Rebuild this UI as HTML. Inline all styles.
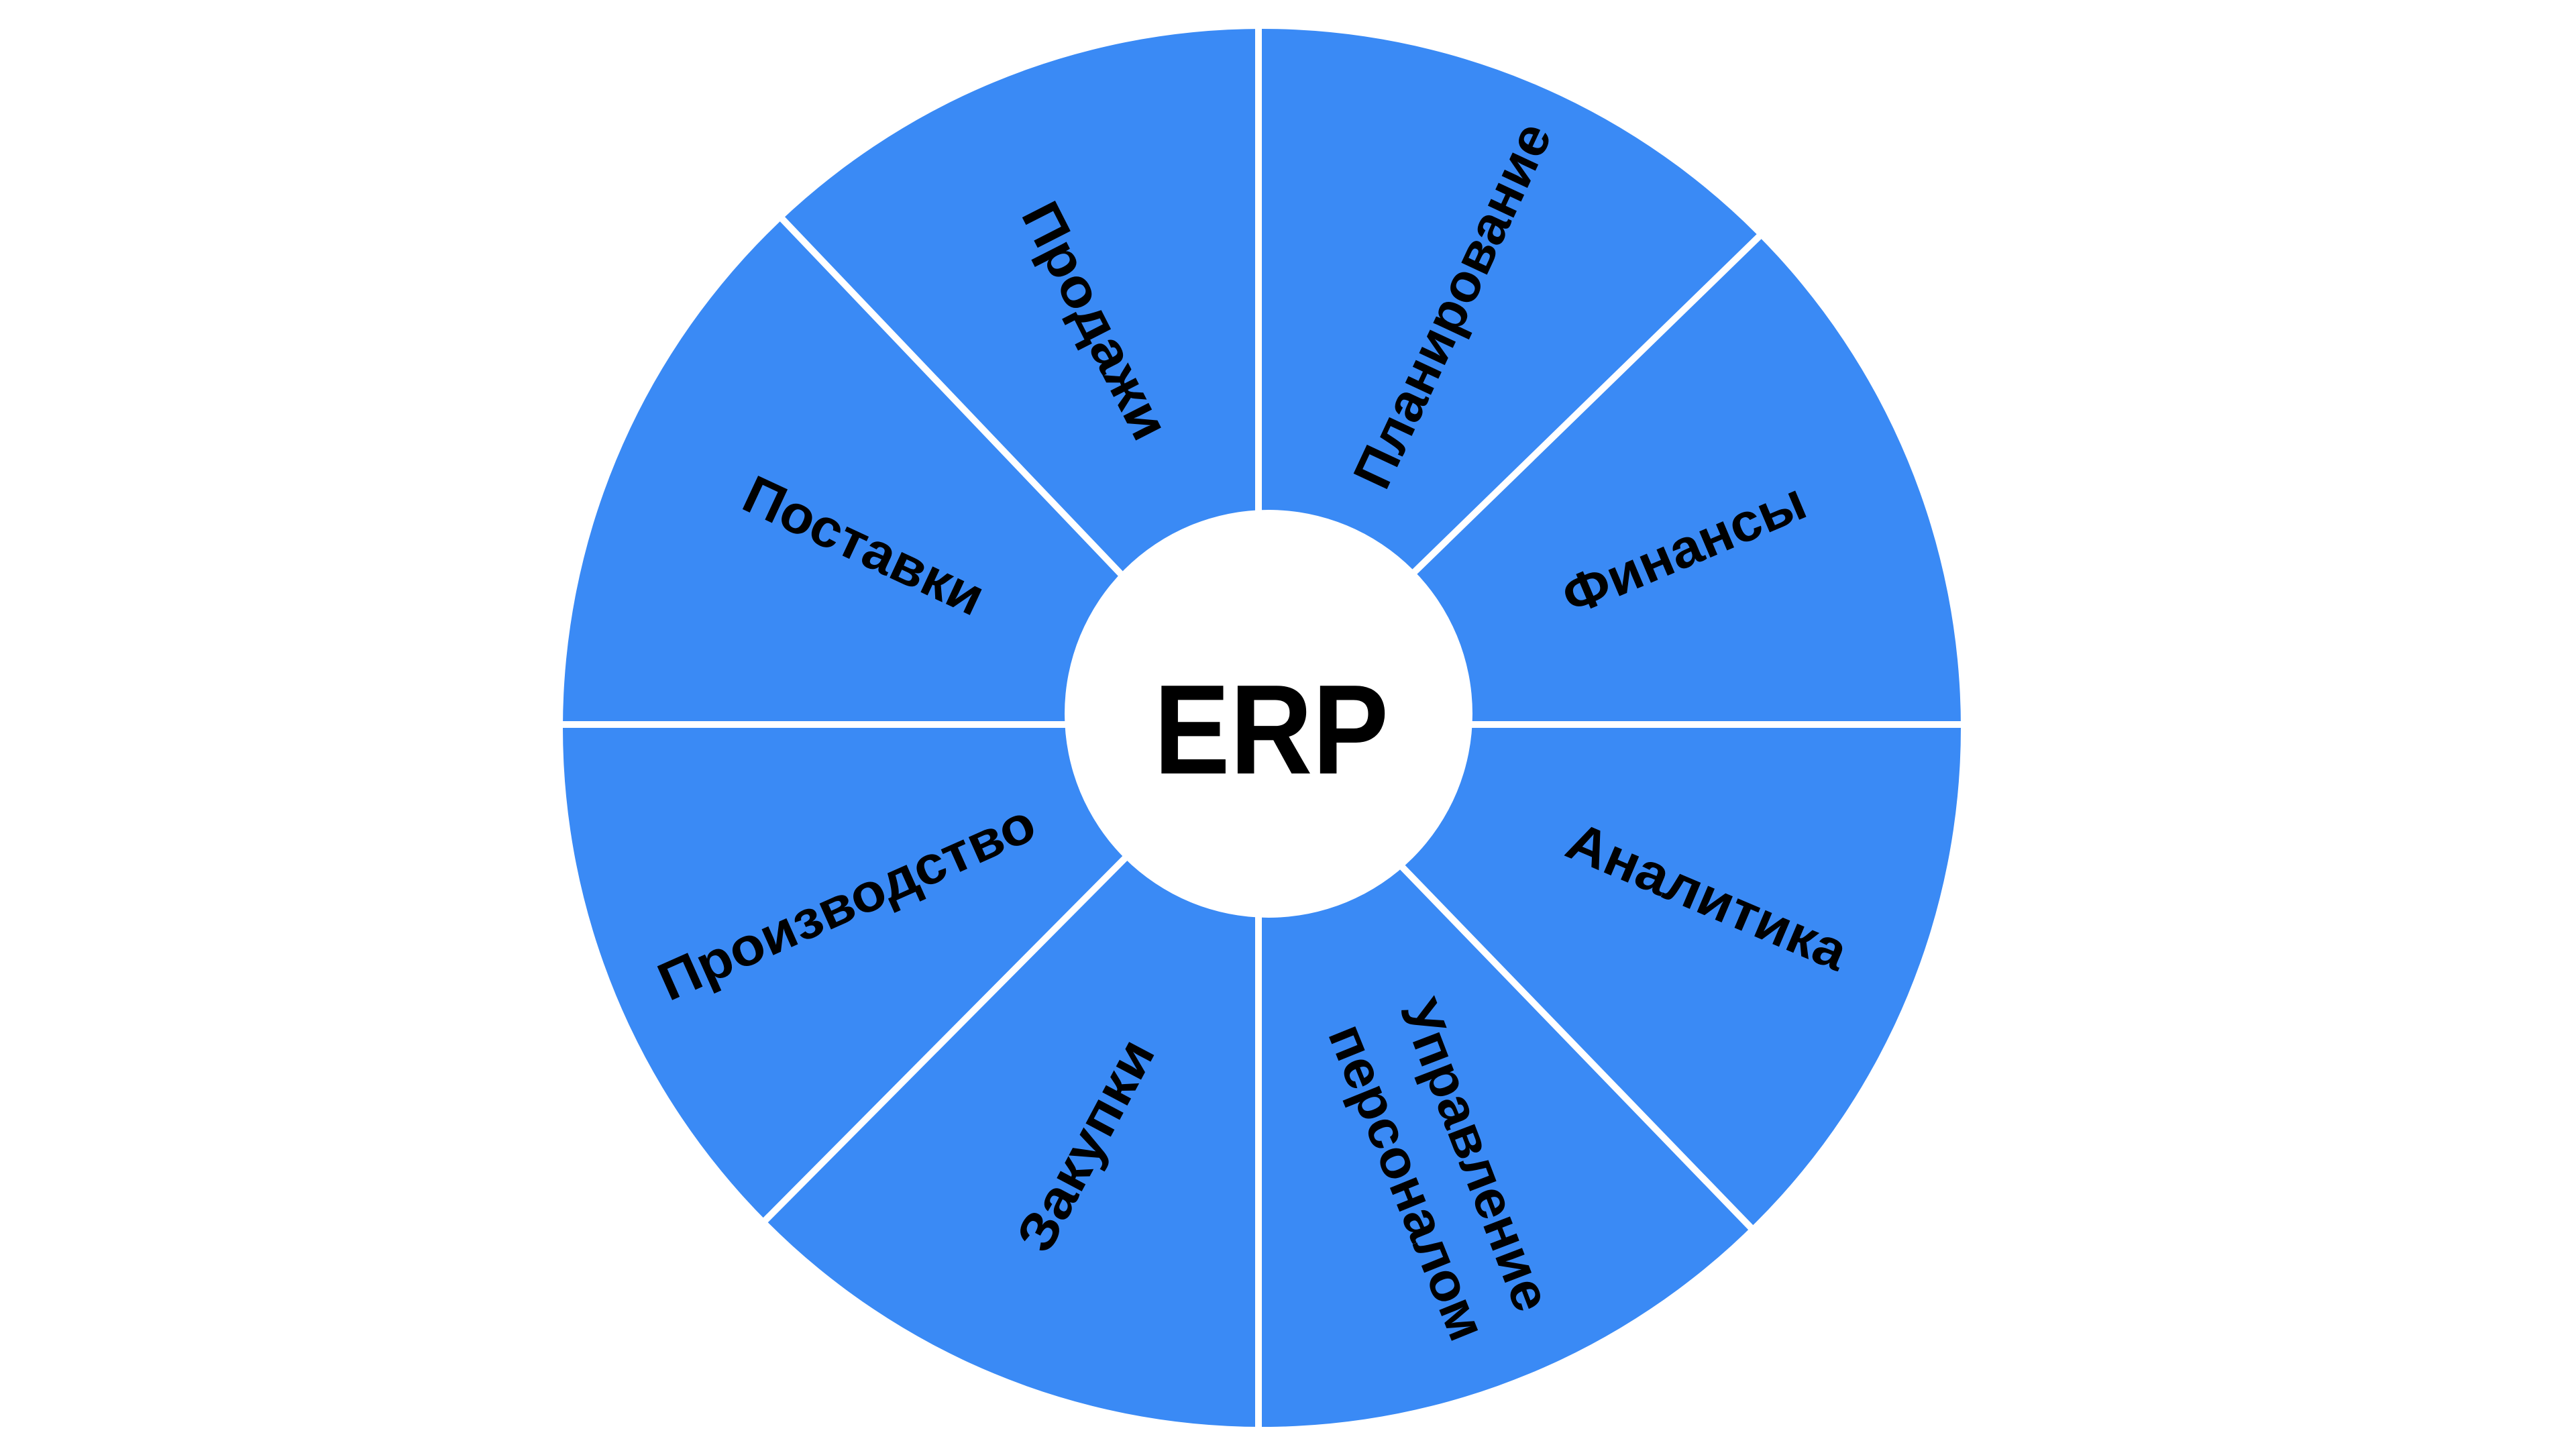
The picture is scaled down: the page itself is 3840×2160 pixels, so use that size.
<!DOCTYPE html>
<html><head><meta charset="utf-8"><style>
html,body{margin:0;padding:0;background:#fff;}
svg{display:block;}
text{font-family:"Liberation Sans","DejaVu Sans",sans-serif;font-weight:bold;fill:#000;}
</style></head><body>
<svg width="3840" height="2160" viewBox="0 0 3840 2160" xmlns="http://www.w3.org/2000/svg">
<circle cx="1881" cy="1085" r="1042" fill="#3a8af5"/>
<g stroke="#fff" stroke-width="10">
<line x1="1876" y1="0" x2="1876" y2="2160"/>
<line x1="800" y1="1080" x2="2960" y2="1080"/>
<line x1="1880" y1="1075" x2="1160" y2="320"/>
<line x1="1880" y1="1075" x2="2630" y2="345"/>
<line x1="1880" y1="1075" x2="1130" y2="1830"/>
<line x1="1880" y1="1075" x2="2610" y2="1830"/>
</g>
<circle cx="1891" cy="1064" r="304" fill="#fff"/>
<text x="1895" y="1153" font-size="190" text-anchor="middle" textLength="350" lengthAdjust="spacingAndGlyphs">ERP</text>
<g font-size="80" dominant-baseline="central" text-anchor="middle">
<text transform="translate(1633,478) rotate(63)" textLength="385" lengthAdjust="spacingAndGlyphs">Продажи</text>
<text transform="translate(2165,455) rotate(-65)" textLength="590" lengthAdjust="spacingAndGlyphs">Планирование</text>
<text transform="translate(2510,818) rotate(-23)" textLength="385" lengthAdjust="spacingAndGlyphs">Финансы</text>
<text transform="translate(2545,1336) rotate(23)" textLength="445" lengthAdjust="spacingAndGlyphs">Аналитика</text>
<text transform="translate(2200,1722) rotate(69)" textLength="490" lengthAdjust="spacingAndGlyphs">Управление</text>
<text transform="translate(2098,1762) rotate(68)" textLength="500" lengthAdjust="spacingAndGlyphs">персоналом</text>
<text transform="translate(1618,1707) rotate(-62)" textLength="345" lengthAdjust="spacingAndGlyphs">Закупки</text>
<text transform="translate(1262,1345) rotate(-24)" textLength="605" lengthAdjust="spacingAndGlyphs">Производство</text>
<text transform="translate(1288,813) rotate(25)" textLength="385" lengthAdjust="spacingAndGlyphs">Поставки</text>
</g>
</svg>
</body></html>
